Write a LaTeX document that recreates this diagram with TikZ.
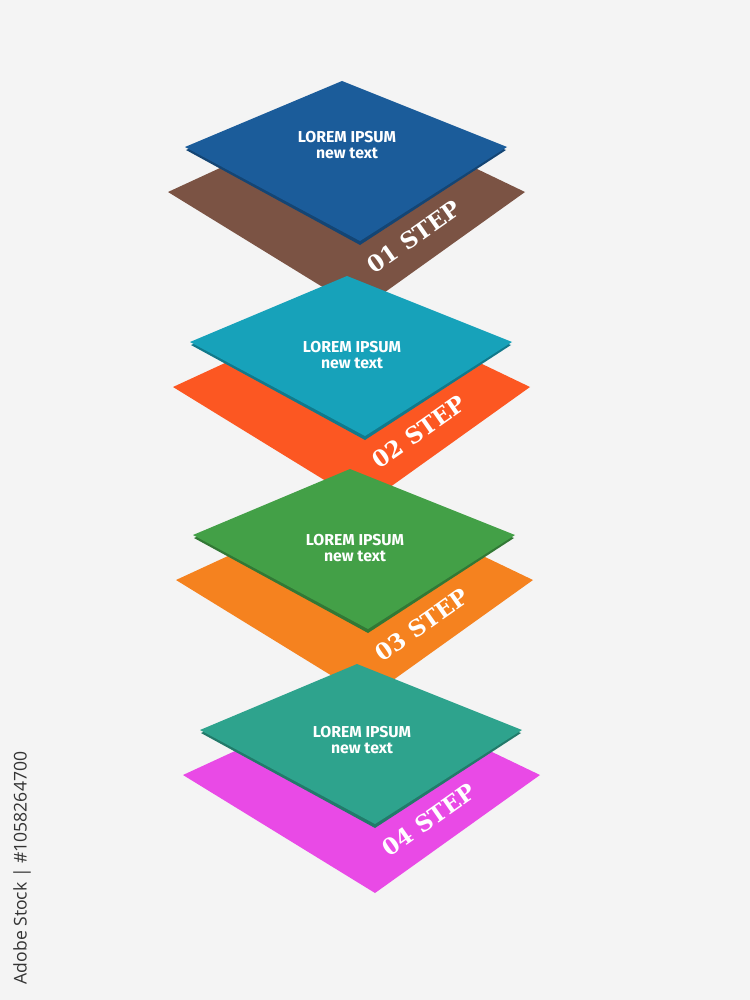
\documentclass[tikz,border=0pt]{standalone}
\usepackage{fontspec}
\newfontfamily\loremfont{Fira Sans}
\newfontfamily\stepfont{DejaVu Serif}
\newfontfamily\markfont{Open Sans}
\definecolor{paper}{HTML}{F4F4F4}
\definecolor{stepblue}{HTML}{1B5C9A}
\definecolor{stepbrown}{HTML}{7B5344}
\definecolor{stepcyan}{HTML}{17A2BA}
\definecolor{stepred}{HTML}{FC5722}
\definecolor{stepgreen}{HTML}{43A047}
\definecolor{steporange}{HTML}{F5821F}
\definecolor{stepteal}{HTML}{2EA38D}
\definecolor{steppink}{HTML}{E94AE6}
\tikzset{
    lorem/.style={text=white,align=center,font=\loremfont\bfseries\fontsize{9}{9.5}\selectfont,inner sep=0pt},
    steplabel/.style={text=white,rotate=35,font=\stepfont\bfseries\fontsize{13}{14}\selectfont,inner sep=0pt}
}
\begin{document}
\begin{tikzpicture}[x=0.02cm,y=-0.02cm]
        % Draw paper background
        \fill[paper] (0,0) rectangle (750,1000);
        % Draw the four layers
        \foreach \n/\dx/\dy/\ly/\topc/\botc in {1/185/147/-10/stepblue/stepbrown,
                2/190/342/5/stepcyan/stepred, 3/193/535/5/stepgreen/steporange,
                4/200/730/2/stepteal/steppink} {
            \begin{scope}[shift={(\dx,\dy)}]
                % bottom plate
                \fill[\botc] (-17,45) -- (165,-39) -- (340,45) -- (175,163) -- cycle;
                % edge of top plate
                \fill[\topc!75!black] (1,3) -- (157,-62) -- (321,3) -- (175,98) -- cycle;
                % top plate
                \fill[\topc] (0,0) -- (157,-66) -- (322,0) -- (175,94) -- cycle;
                \node[lorem] (lorem\n) at (162,\ly+8) {LOREM IPSUM\\new text};
                \node[steplabel] (step\n) at (229,90) {0\n{} STEP};
            \end{scope}
        }
        % Draw side mark
        \node[rotate=90,text=black!80,font=\markfont\fontsize{10}{12}\selectfont,inner sep=0pt] (mark) at (22,868) {Adobe Stock | \#1058264700};
    \end{tikzpicture}
\end{document}
